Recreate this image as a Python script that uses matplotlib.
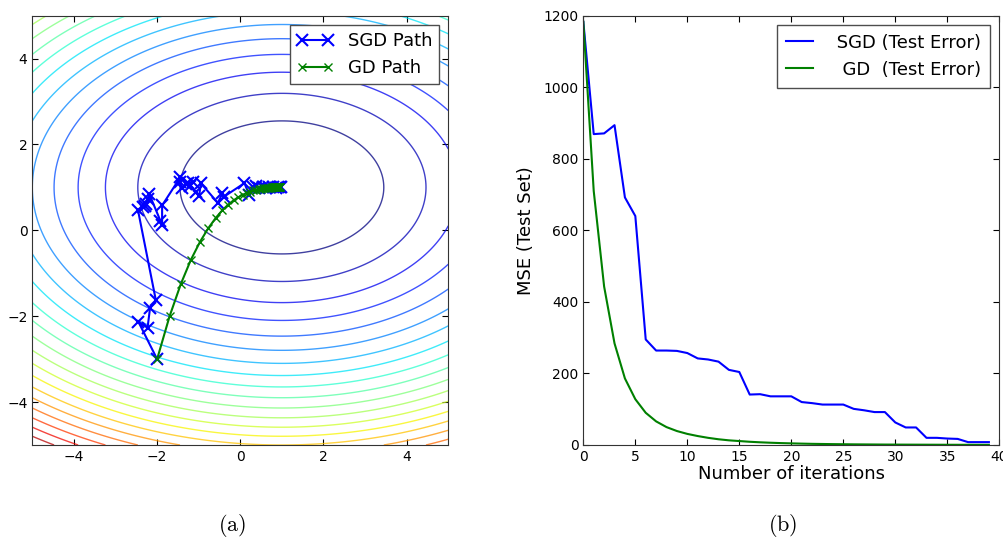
import numpy as np
import matplotlib
matplotlib.use('Agg')
import matplotlib.pyplot as plt

# surface for the contour plot: f(w0, w1) = (w0 - c0)^2 + k * (w1 - c1)^2
centre = (1.0, 1.0)
k_y = 2.5
contour_levels = np.arange(6, 127, 6)

# gradient descent path
gd_x = [-2.00, -1.70, -1.43, -1.19, -0.97, -0.77, -0.59, -0.43, -0.29, -0.16,
        -0.05, 0.06, 0.15, 0.24, 0.31, 0.38, 0.44, 0.50, 0.55, 0.59,
        0.64, 0.67, 0.70, 0.73, 0.76, 0.78, 0.81, 0.83, 0.84, 0.86,
        0.87, 0.89, 0.90, 0.91, 0.92, 0.92, 0.93, 0.94, 0.95, 0.95]
gd_y = [-3.00, -2.00, -1.25, -0.69, -0.27, 0.05, 0.29, 0.47, 0.60, 0.70,
        0.77, 0.83, 0.87, 0.90, 0.93, 0.95, 0.96, 0.97, 0.98, 0.98,
        0.99, 0.99, 0.99, 0.99, 1.00, 1.00, 1.00, 1.00, 1.00, 1.00,
        1.00, 1.00, 1.00, 1.00, 1.00, 1.00, 1.00, 1.00, 1.00, 1.00]

# stochastic gradient descent path
sgd_x = [-2.00, -2.45, -2.23, -2.17, -2.03, -2.46, -2.33, -2.27, -2.30, -2.21,
         -2.19, -1.92, -1.88, -1.88, -1.44, -1.46, -1.39, -1.30, -1.20, -1.14,
         -1.25, -1.06, -0.99, -0.95, -0.54, -0.43, -0.40, 0.10, 0.21, 0.30,
         0.38, 0.45, 0.55, 0.62, 0.70, 0.78, 0.85, 0.90, 0.95, 0.98]
sgd_y = [-3.00, -2.13, -2.27, -1.81, -1.63, 0.47, 0.54, 0.62, 0.57, 0.74,
         0.85, 0.22, 0.12, 0.58, 1.24, 1.12, 0.98, 1.09, 1.04, 1.12,
         1.10, 0.89, 0.79, 1.10, 0.64, 0.86, 0.78, 1.10, 0.83, 1.01,
         1.04, 0.98, 1.02, 0.99, 1.01, 1.00, 0.99, 1.00, 1.00, 1.00]

# test error per iteration
iterations = list(range(40))
sgd_mse = [1183, 869, 871, 894, 692, 640, 295, 264, 264, 263,
           257, 242, 239, 233, 210, 204, 141, 142, 136, 136,
           136, 120, 117, 113, 113, 113, 101, 97, 92, 92,
           63, 49, 49, 20, 20, 18, 17, 8, 8, 8]
gd_mse = [1183, 710, 443, 284, 186, 128, 90, 66, 50, 39,
          31, 25, 20, 16, 13, 11, 9, 7.5, 6.3, 5.3,
          4.5, 3.8, 3.2, 2.8, 2.4, 2.1, 1.8, 1.6, 1.4, 1.2,
          1.1, 1.0, 0.9, 0.8, 0.7, 0.6, 0.55, 0.5, 0.45, 0.4]

plt.rcParams['font.family'] = ['DejaVu Sans']
plt.rcParams['mathtext.fontset'] = 'cm'
plt.rcParams['xtick.direction'] = 'in'
plt.rcParams['ytick.direction'] = 'in'
plt.rcParams['xtick.top'] = True
plt.rcParams['ytick.right'] = True
plt.rcParams['xtick.major.size'] = 4
plt.rcParams['ytick.major.size'] = 4

fig = plt.figure(figsize=(10.04, 5.43), dpi=100)
ax1 = fig.add_axes([0.0322, 0.1805, 0.4143, 0.7906])
ax2 = fig.add_axes([0.581, 0.1805, 0.4143, 0.7906])

# (a) contour + paths
w0 = np.linspace(-5, 5, 400)
w1 = np.linspace(-5, 5, 400)
W0, W1 = np.meshgrid(w0, w1)
Z = (W0 - centre[0]) ** 2 + k_y * (W1 - centre[1]) ** 2
ax1.contour(W0, W1, Z, levels=contour_levels, cmap='jet', linewidths=1.0, alpha=0.75)

ax1.plot(sgd_x, sgd_y, color='b', lw=1.5, marker='x', ms=8, mew=1.5, label='SGD Path')
ax1.plot(gd_x, gd_y, color='g', lw=1.5, marker='x', ms=6, mew=1.0, label='GD Path')
ax1.set_xlim(-5, 5)
ax1.set_ylim(-5, 5)
ax1.set_xticks([-4, -2, 0, 2, 4])
ax1.set_yticks([-4, -2, 0, 2, 4])
ax1.tick_params(labelsize=10)
leg1 = ax1.legend(loc='upper right', fontsize=13, numpoints=2, fancybox=False,
                  framealpha=1, edgecolor='0.3', borderaxespad=0.5)
leg1.get_frame().set_linewidth(1.0)

# (b) test error curves
ax2.plot(iterations, sgd_mse, color='b', lw=1.5, label=' SGD (Test Error)')
ax2.plot(iterations, gd_mse, color='g', lw=1.5, label='  GD  (Test Error)')
ax2.set_xlim(0, 40)
ax2.set_ylim(0, 1200)
ax2.set_xticks(range(0, 41, 5))
ax2.set_yticks(range(0, 1201, 200))
ax2.tick_params(labelsize=10)
ax2.set_xlabel('Number of iterations', fontsize=13, labelpad=1)
ax2.set_ylabel('MSE (Test Set)', fontsize=13, labelpad=6)
leg2 = ax2.legend(loc='upper right', fontsize=13, handlelength=1.5, fancybox=False,
                  framealpha=1, edgecolor='0.3', borderaxespad=0.5,
                  borderpad=0.5, handletextpad=1.0)
leg2.get_frame().set_linewidth(1.0)

for ax in (ax1, ax2):
    for s in ax.spines.values():
        s.set_edgecolor('0.2')

fig.text(0.231, 0.022, r'$\mathrm{(a)}$', fontsize=16, ha='center', va='baseline')
fig.text(0.780, 0.022, r'$\mathrm{(b)}$', fontsize=16, ha='center', va='baseline')

fig.savefig('out.png', dpi=100, facecolor='white')
